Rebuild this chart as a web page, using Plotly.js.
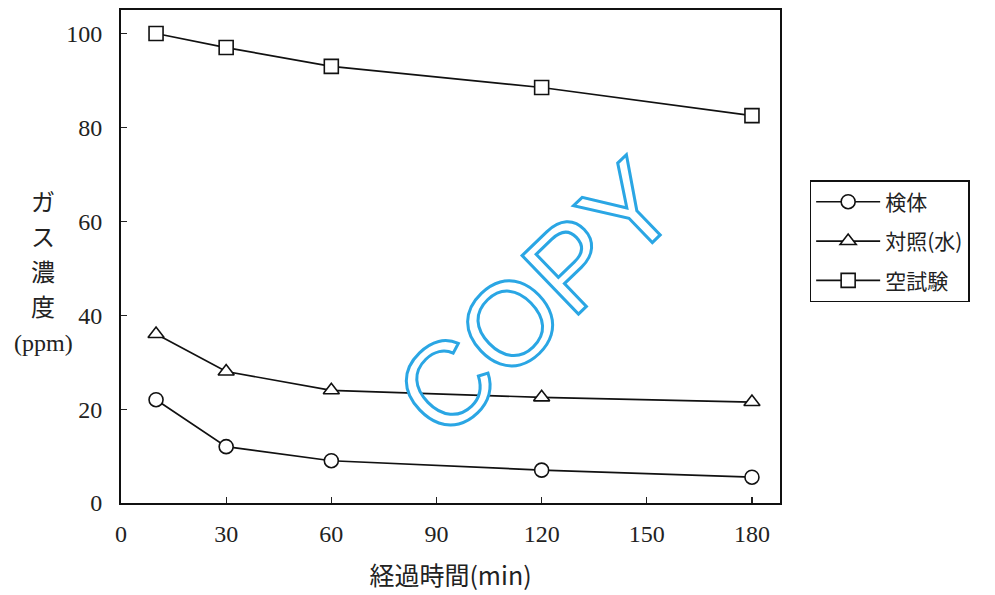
<!DOCTYPE html>
<html><head><meta charset="utf-8">
<script src="https://cdn.plot.ly/plotly-3.0.1.min.js"></script>
<style>body{margin:0;background:#fff}</style>
</head><body>
<div id="chart" style="width:995px;height:595px"></div>
<script>
const times = [10, 30, 60, 120, 180];
const seriesNames = ["検体", "対照(水)", "空試験"];
const sampleVals = [22, 12, 9, 7, 5.5];
const controlVals = [36, 28, 24, 22.5, 21.5];
const blankVals = [100, 97, 93, 88.5, 82.5];
const xTicks = [0, 30, 60, 90, 120, 150, 180];
const yTicks = [0, 20, 40, 60, 80, 100];
const yTitleLines = ["ガ", "ス", "濃", "度", "(ppm)"];

const numFont = {family: "Liberation Serif", size: 24, color: "#222"};
const jpFont = "Noto Sans CJK JP";

function mk(name, y, symbol, grp) {
  return {
    x: times, y: y, name: name, type: "scatter", mode: "lines+markers",
    legendgroup: grp,
    line: {color: "#111", width: 1.7},
    marker: {symbol: symbol, size: 14, color: "#fff", line: {color: "#111", width: 1.6}}
  };
}
const data = [
  mk(seriesNames[0], sampleVals, "circle", "a"),
  mk(seriesNames[1], controlVals, "triangle-up", "b"),
  mk(seriesNames[2], blankVals, "square", "c")
];

const yTitleY = [0.6146, 0.5436, 0.4726, 0.4016, 0.3245];
const annotations = yTitleLines.map(function (t, i) {
  return {xref: "paper", yref: "paper", x: -0.118, y: yTitleY[i], xanchor: "center", yanchor: "middle",
          showarrow: false, text: t,
          font: {family: i === 4 ? "Liberation Serif" : jpFont, size: 24, color: "#222"}};
});
annotations.push({xref: "paper", yref: "paper", x: 0.63, y: 0.415, xanchor: "center", yanchor: "middle",
  showarrow: false, textangle: -44, text: "COPY",
  font: {family: "Liberation Sans", size: 118, color: "#fff"}});

const layout = {
  width: 995, height: 595,
  margin: {l: 121, r: 215, t: 10, b: 92},
  paper_bgcolor: "#fff", plot_bgcolor: "#fff",
  showlegend: true,
  legend: {
    x: 1.045, y: 0.655, xanchor: "left", yanchor: "top",
    bordercolor: "#111", borderwidth: 1.5,
    font: {family: jpFont, size: 21, color: "#222"},
    traceorder: "grouped", tracegroupgap: 9, itemwidth: 64
  },
  xaxis: {
    range: [0, 188], tickvals: xTicks, ticktext: xTicks.map(String),
    ticks: "inside", ticklen: 6, tickcolor: "#222", tickwidth: 1.2,
    showline: true, linecolor: "#111", linewidth: 2, mirror: true,
    showgrid: false, zeroline: false, tickfont: numFont, ticklabelstandoff: 8,
    title: {text: "経過時間(min)", font: {family: jpFont, size: 25, color: "#222"}, standoff: 22}
  },
  yaxis: {
    range: [0, 105], tickvals: yTicks, ticktext: yTicks.map(String),
    ticks: "inside", ticklen: 6, tickcolor: "#222", tickwidth: 1.2,
    showline: true, linecolor: "#111", linewidth: 2, mirror: true,
    showgrid: false, zeroline: false, tickfont: numFont, ticklabelstandoff: 12
  },
  annotations: annotations
};

Plotly.newPlot("chart", data, layout, {displayModeBar: false, staticPlot: true}).then(function () {
  document.querySelectorAll(".annotation-text").forEach(function (t) {
    if (t.textContent === "COPY") {
      t.style.fill = "#ffffff";
      t.style.stroke = "#2aa6e4";
      t.style.strokeWidth = "3px";
    }
  });
});
</script>
</body></html>
